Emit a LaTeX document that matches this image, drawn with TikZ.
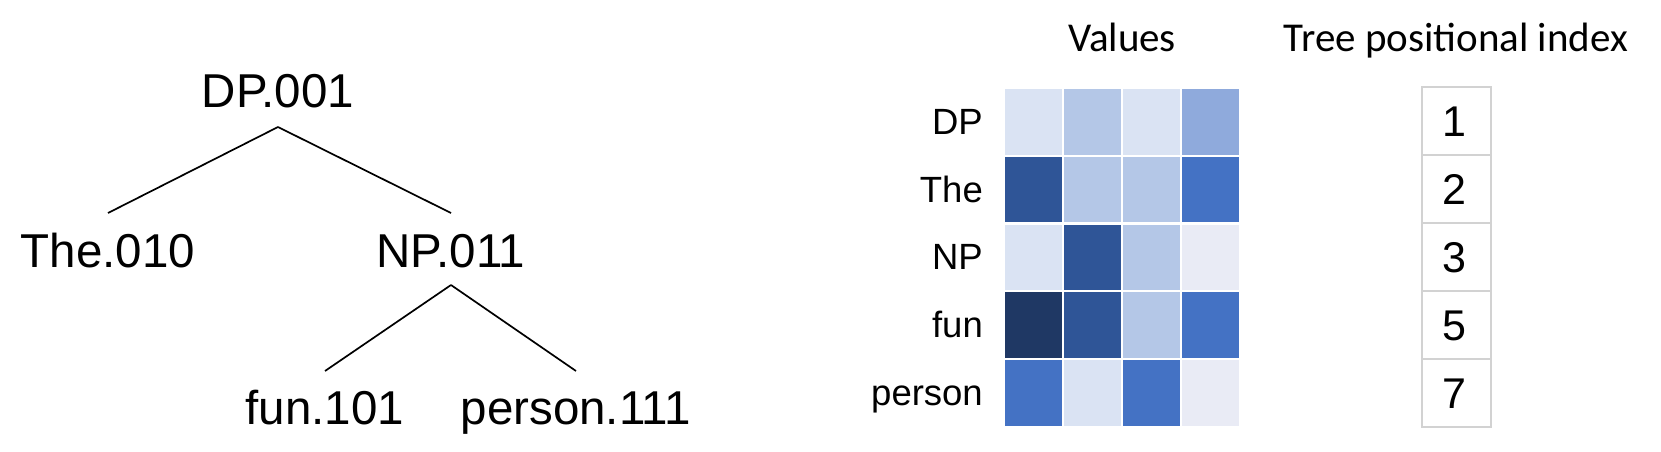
\documentclass[tikz,border=0pt]{standalone}
\usepackage{fontspec}
\setmainfont{Liberation Sans}
\newfontfamily\headfont{Carlito}
\definecolor{c0}{HTML}{E9EBF5}
\definecolor{c1}{HTML}{DAE3F3}
\definecolor{c2}{HTML}{B4C7E7}
\definecolor{c3}{HTML}{8FAADC}
\definecolor{c4}{HTML}{4472C4}
\definecolor{c5}{HTML}{2F5597}
\definecolor{c6}{HTML}{1F3864}
\definecolor{boxgray}{HTML}{D2D2D2}
\tikzset{
  treenode/.style={inner sep=0pt, anchor=base, font=\fontsize{47.5}{52}\selectfont},
  branch/.style={line width=1.7pt, black},
  cell/.style={draw=none, inner sep=0pt, minimum width=57pt, minimum height=65.5pt, anchor=north west},
  rowlab/.style={inner sep=0pt, anchor=base east, font=\fontsize{36.5}{40}\selectfont},
  idxbox/.style={draw=boxgray, line width=2.2pt, inner sep=0pt, minimum width=69pt, minimum height=68pt},
  idxnum/.style={inner sep=0pt, anchor=base, font=\fontsize{43}{46}\selectfont},
  header/.style={inner sep=0pt, anchor=base, font=\headfont\fontsize{41}{44}\selectfont}
}
\begin{document}
\begin{tikzpicture}[x=1pt,y=-1pt]
\useasboundingbox[fill=white] (0,0) rectangle (1661,452);
% tree
\node[treenode] (dp) at (278,107) {DP.001};
\node[treenode] (the) at (108,267) {The.010};
\node[treenode] (np) at (451,267) {NP.011};
\node[treenode] (fun) at (325,424) {fun.101};
\node[treenode] (person) at (576,424) {person.111};
\draw[branch] ([yshift=-20pt]dp.base) -- ([yshift=54pt]the.base);
\draw[branch] ([yshift=-20pt]dp.base) -- ([yshift=54pt]np.base);
\draw[branch] ([yshift=-18pt]np.base) -- ([yshift=53pt]fun.base);
\draw[branch] ([yshift=-18pt]np.base) -- ([yshift=53pt]person.base);
% headers
\node[header] (values) at (1122,52) {Values};
\node[header] (tpi) at (1456,52) {Tree positional index};
% heatmap
\foreach \r/\lab/\a/\b/\c/\d in {0/DP/c1/c2/c1/c3, 1/The/c5/c2/c2/c4, 2/NP/c1/c5/c2/c0, 3/fun/c6/c5/c2/c4, 4/person/c4/c1/c4/c0}{
  \pgfmathsetmacro{\yt}{89+\r*67.75}
  \pgfmathsetmacro{\yb}{\yt+32.75+12.5}
  \node[cell, fill=\a] (cell-\r-0) at (1005,\yt) {};
  \node[cell, fill=\b] (cell-\r-1) at (1064,\yt) {};
  \node[cell, fill=\c] (cell-\r-2) at (1123,\yt) {};
  \node[cell, fill=\d] (cell-\r-3) at (1182,\yt) {};
  \node[rowlab] (lab-\r) at (983,\yb) {\lab};
}
% index column
\foreach \i/\n in {0/1, 1/2, 2/3, 3/5, 4/7}{
  \pgfmathsetmacro{\yc}{121+\i*68}
  \node[idxbox] (idx-\i) at (1456.5,\yc) {};
  \node[idxnum] (num-\i) at ([xshift=-2pt,yshift=-15pt]idx-\i.center) {\n};
}
\end{tikzpicture}
\end{document}
